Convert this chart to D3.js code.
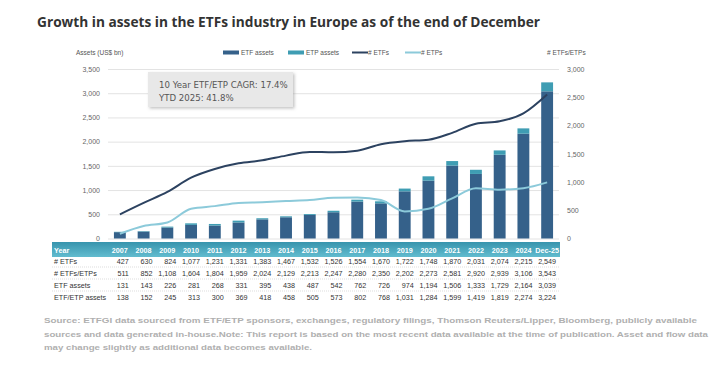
<!DOCTYPE html>
<html>
<head>
<meta charset="utf-8">
<script src="https://cdn.jsdelivr.net/npm/d3@7"></script>
<style>
  body { margin: 0; background: #fff; }
  svg { display: block; }
</style>
</head>
<body>
<svg id="chart" width="718" height="371"></svg>
<script>
// data
var years = ["2007","2008","2009","2010","2011","2012","2013","2014","2015","2016","2017","2018","2019","2020","2021","2022","2023","2024","Dec-25"];
var etfCount = [427,630,824,1077,1231,1331,1383,1467,1532,1526,1554,1670,1722,1748,1870,2031,2074,2215,2549];
var etfEtpCount = [511,852,1108,1604,1804,1959,2024,2129,2213,2247,2280,2350,2202,2273,2581,2920,2939,3106,3543];
var etpCount = [84,222,284,527,573,628,641,662,681,721,726,680,480,525,711,889,865,891,994];
var etfAssets = [131,143,226,281,268,331,395,438,487,542,762,726,974,1194,1506,1333,1729,2164,3039];
var etfEtpAssets = [138,152,245,313,300,369,418,458,505,573,802,768,1031,1284,1599,1419,1819,2274,3224];
var etpAssets = [7,9,19,32,32,38,23,20,18,31,40,42,57,90,93,86,90,110,185];
var leftTicks = [0,500,1000,1500,2000,2500,3000,3500];
var rightTicks = [0,500,1000,1500,2000,2500,3000];
var tableRows = [
  { label: "# ETFs", values: etfCount },
  { label: "# ETFs/ETPs", values: etfEtpCount },
  { label: "ETF assets", values: etfAssets },
  { label: "ETF/ETP assets", values: etfEtpAssets }
];

var C = {
  etf: "#35618a",
  etp: "#3f9db3",
  lineEtf: "#2c4260",
  lineEtp: "#8ccada",
  grid: "#e3e3e3",
  tick: "#666"
};

var svg = d3.select("#chart");
var fmt = d3.format(",");

var plotLeft = 108, plotRight = 559, plotTop = 69, plotBottom = 238.5;

var x = d3.scaleBand()
  .domain(years)
  .range([plotLeft, plotRight])
  .paddingInner(0.5)
  .paddingOuter(0.25);

var yL = d3.scaleLinear().domain([0, 3500]).range([plotBottom, plotTop]);
var yR = d3.scaleLinear().domain([0, 3000]).range([plotBottom, plotTop]);

// title
svg.append("text")
  .attr("x", 37).attr("y", 27)
  .attr("font-family", "Open Sans, sans-serif")
  .attr("font-weight", 700)
  .attr("font-size", 13.7)
  .attr("fill", "#333")
  .text("Growth in assets in the ETFs industry in Europe as of the end of December");

// axis titles
svg.append("text")
  .attr("x", 76).attr("y", 55)
  .attr("font-family", "Liberation Sans, sans-serif")
  .attr("font-size", 6.5).attr("fill", "#555")
  .text("Assets (US$ bn)");
svg.append("text")
  .attr("x", 547).attr("y", 55)
  .attr("font-family", "Liberation Sans, sans-serif")
  .attr("font-size", 6.5).attr("fill", "#555")
  .text("# ETFs/ETPs");

// gridlines + left axis
var gL = svg.append("g")
  .attr("transform", "translate(" + plotLeft + ",0)")
  .call(d3.axisLeft(yL).tickValues(leftTicks).tickSize(-(plotRight - plotLeft)).tickPadding(8).tickFormat(fmt));
gL.select(".domain").remove();
gL.selectAll("line").attr("stroke", C.grid);
gL.selectAll("text").attr("fill", C.tick).attr("font-size", 7).attr("font-family", "Liberation Sans, sans-serif");

var gR = svg.append("g")
  .attr("transform", "translate(" + plotRight + ",0)")
  .call(d3.axisRight(yR).tickValues(rightTicks).tickSize(0).tickPadding(8).tickFormat(fmt));
gR.select(".domain").remove();
gR.selectAll("text").attr("fill", C.tick).attr("font-size", 7).attr("font-family", "Liberation Sans, sans-serif");

// stacked bars
var bars = svg.append("g");
bars.selectAll(".etf")
  .data(years)
  .enter().append("rect")
    .attr("class", "etf")
    .attr("x", function(d) { return x(d); })
    .attr("width", x.bandwidth())
    .attr("y", function(d, i) { return yL(etfAssets[i]); })
    .attr("height", function(d, i) { return plotBottom - yL(etfAssets[i]); })
    .attr("fill", C.etf);
bars.selectAll(".etp")
  .data(years)
  .enter().append("rect")
    .attr("class", "etp")
    .attr("x", function(d) { return x(d); })
    .attr("width", x.bandwidth())
    .attr("y", function(d, i) { return yL(etfAssets[i] + etpAssets[i]); })
    .attr("height", function(d, i) { return yL(etfAssets[i]) - yL(etfAssets[i] + etpAssets[i]); })
    .attr("fill", C.etp);

// lines on the right scale
var cx = function(d, i) { return x(years[i]) + x.bandwidth() / 2; };
var line = d3.line()
  .x(cx)
  .y(function(d) { return yR(d); })
  .curve(d3.curveMonotoneX);

svg.append("path")
  .datum(etpCount)
  .attr("d", line)
  .attr("fill", "none")
  .attr("stroke", C.lineEtp)
  .attr("stroke-width", 2);
svg.append("path")
  .datum(etfCount)
  .attr("d", line)
  .attr("fill", "none")
  .attr("stroke", C.lineEtf)
  .attr("stroke-width", 2);

// legend
var legend = [
  { name: "ETF assets", type: "bar", color: C.etf, x: 223 },
  { name: "ETP assets", type: "bar", color: C.etp, x: 288 },
  { name: "# ETFs", type: "line", color: C.lineEtf, x: 352 },
  { name: "# ETPs", type: "line", color: C.lineEtp, x: 405 }
];
var lg = svg.append("g").selectAll("g").data(legend).enter().append("g")
  .attr("transform", function(d) { return "translate(" + d.x + ",52.5)"; });
lg.append("rect")
  .attr("x", 0)
  .attr("y", function(d) { return d.type == "bar" ? -2 : -1; })
  .attr("width", 16)
  .attr("height", function(d) { return d.type == "bar" ? 4 : 2; })
  .attr("fill", function(d) { return d.color; });
lg.append("text")
  .attr("x", function(d) { return d.type == "bar" ? 18 : 16; }).attr("y", 2.5)
  .attr("font-family", "Liberation Sans, sans-serif")
  .attr("font-size", 6.5).attr("fill", "#555")
  .text(function(d) { return d.name; });

// CAGR box
var defs = svg.append("defs");
var sh = defs.append("filter").attr("id", "shadow").attr("x", "-10%").attr("y", "-20%").attr("width", "130%").attr("height", "160%");
sh.append("feDropShadow").attr("dx", 1.5).attr("dy", 1.5).attr("stdDeviation", 1.5).attr("flood-color", "#999").attr("flood-opacity", 0.6);
svg.append("rect")
  .attr("x", 148).attr("y", 72).attr("width", 145).attr("height", 35)
  .attr("fill", "#e8e8e8")
  .attr("filter", "url(#shadow)");
svg.append("text")
  .attr("x", 159).attr("y", 88)
  .attr("font-family", "DejaVu Sans, sans-serif")
  .attr("font-size", 8.6).attr("fill", "#555")
  .text("10 Year ETF/ETP CAGR: 17.4%");
svg.append("text")
  .attr("x", 159).attr("y", 101)
  .attr("font-family", "DejaVu Sans, sans-serif")
  .attr("font-size", 8.6).attr("fill", "#555")
  .text("YTD 2025: 41.8%");

// data table under the chart
var grad = defs.append("linearGradient").attr("id", "hdr").attr("x1", 0).attr("y1", 0).attr("x2", 0).attr("y2", 1);
grad.append("stop").attr("offset", "0%").attr("stop-color", "#3794ad");
grad.append("stop").attr("offset", "100%").attr("stop-color", "#62bccf");
svg.append("rect")
  .attr("x", 52).attr("y", 242).attr("width", 508).attr("height", 15)
  .attr("fill", "url(#hdr)");

var colMid = function(d) { return x(d) + x.bandwidth() / 2; };
var tbl = svg.append("g")
  .attr("font-family", "Liberation Sans, sans-serif")
  .attr("font-size", 7.2);

tbl.append("text")
  .attr("x", 54).attr("y", 253)
  .attr("fill", "#fff").attr("font-weight", 700)
  .text("Year");
tbl.selectAll(".yr")
  .data(years)
  .enter().append("text")
    .attr("class", "yr")
    .attr("x", colMid).attr("y", 253)
    .attr("text-anchor", "middle")
    .attr("fill", "#fff").attr("font-weight", 700)
    .text(function(d) { return d; });

var rowY = [264, 276, 288, 299.5];
tableRows.forEach(function(row, r) {
  tbl.append("text")
    .attr("x", 54).attr("y", rowY[r])
    .attr("fill", "#333")
    .text(row.label);
  tbl.selectAll(".r" + r)
    .data(row.values)
    .enter().append("text")
      .attr("class", "r" + r)
      .attr("x", function(d, i) { return colMid(years[i]) + 9; })
      .attr("y", rowY[r])
      .attr("text-anchor", "end")
      .attr("fill", "#333")
      .text(function(d) { return fmt(d); });
  if (r < tableRows.length - 1) {
    svg.append("line")
      .attr("x1", 52).attr("x2", 560)
      .attr("y1", rowY[r] + 3).attr("y2", rowY[r] + 3)
      .attr("stroke", "#ddd")
      .attr("stroke-dasharray", "1,1");
  }
});

// source note
var notes = [
  "Source: ETFGI data sourced from ETF/ETP sponsors, exchanges, regulatory filings, Thomson Reuters/Lipper, Bloomberg, publicly available",
  "sources and data generated in-house.Note: This report is based on the most recent data available at the time of publication. Asset and flow data",
  "may change slightly as additional data becomes available."
];
var noteW = [653, 664, 268];
svg.append("g").selectAll("text")
  .data(notes)
  .enter().append("text")
    .attr("x", 44)
    .attr("y", function(d, i) { return 323 + i * 13.5; })
    .attr("font-family", "Liberation Sans, sans-serif")
    .attr("font-size", 7.4)
    .attr("font-weight", 700)
    .attr("fill", "#b0b0b0")
    .attr("textLength", function(d, i) { return noteW[i]; })
    .attr("lengthAdjust", "spacingAndGlyphs")
    .text(function(d) { return d; });
</script>
</body>
</html>
